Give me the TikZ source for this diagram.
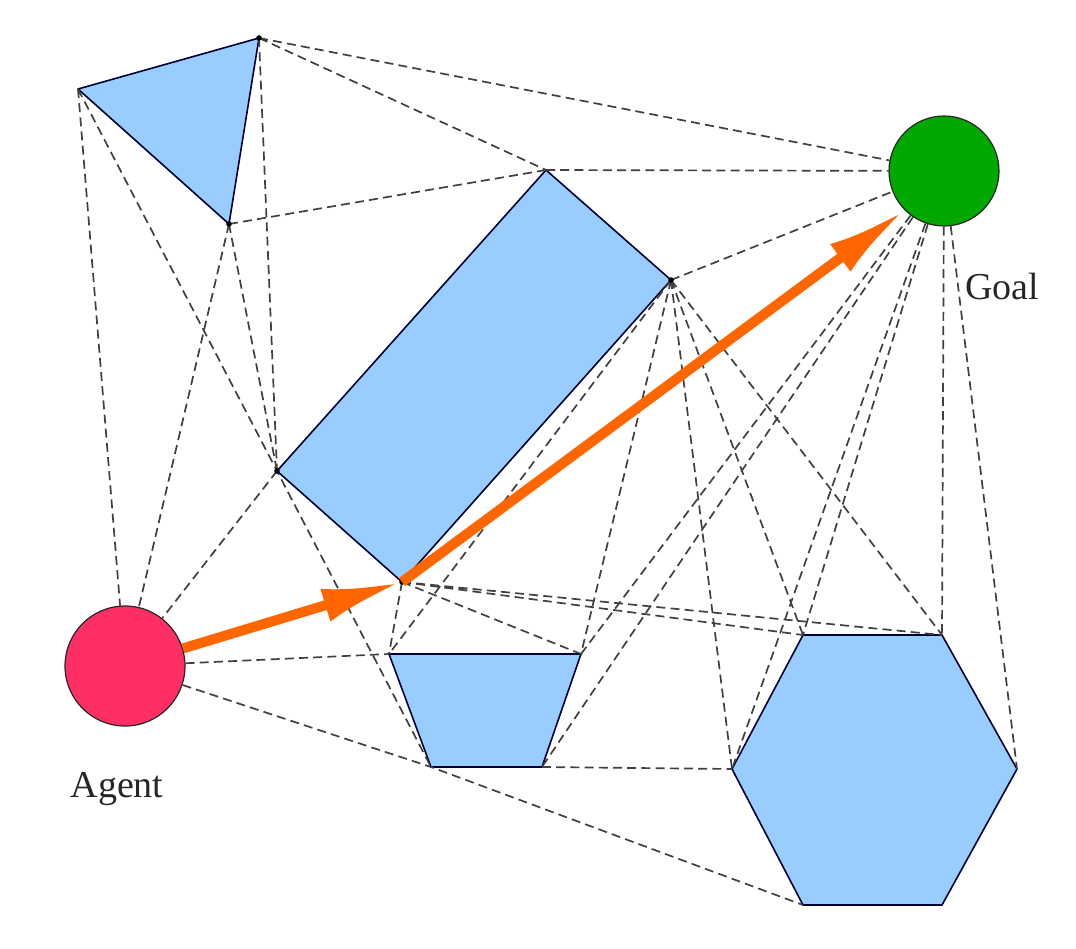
\documentclass[tikz,border=0pt]{standalone}
\usepackage{fontspec}
\setmainfont{Liberation Serif}
\usetikzlibrary{arrows.meta}

\definecolor{obstacleblue}{RGB}{153,204,255}
\definecolor{agentred}{RGB}{255,46,100}
\definecolor{goalgreen}{RGB}{0,168,0}
\definecolor{routeorange}{RGB}{255,102,0}

\begin{document}
\begin{tikzpicture}[
  x=0.5pt, y=-0.5pt,
  obstacle/.style={draw=black!80!blue, fill=obstacleblue, line width=0.8pt, line join=round},
  body/.style={circle, draw=black!85, line width=0.6pt, inner sep=0pt},
  sight/.style={draw=black!75, line width=0.85pt, dash pattern=on 4.5pt off 2.6pt},
  route/.style={draw=routeorange, line width=5pt, -{Latex[length=40pt,width=17pt]}},
  tag/.style={font=\fontsize{19}{19}\selectfont, text=black!85, inner sep=0pt, anchor=base}
]
  \useasboundingbox (0,0) rectangle (1076,948);

  \coordinate (tri-left) at (78,89);
  \coordinate (tri-top) at (259,38);
  \coordinate (tri-bottom) at (229,224);
  \coordinate (rect-top) at (546,170);
  \coordinate (rect-right) at (671,280);
  \coordinate (rect-bottom) at (402,582);
  \coordinate (rect-left) at (277,471);
  \coordinate (trap-tl) at (389,654);
  \coordinate (trap-tr) at (581,654);
  \coordinate (trap-br) at (542,767);
  \coordinate (trap-bl) at (431,767);
  \coordinate (hex-tl) at (803,635);
  \coordinate (hex-tr) at (942,635);
  \coordinate (hex-right) at (1017,769);
  \coordinate (hex-br) at (942,905);
  \coordinate (hex-bl) at (803,905);
  \coordinate (hex-left) at (732,769);

  \draw[obstacle] (tri-left) -- (tri-top) -- (tri-bottom) -- cycle;
  \draw[obstacle] (rect-top) -- (rect-right) -- (rect-bottom) -- (rect-left) -- cycle;
  \draw[obstacle] (trap-tl) -- (trap-tr) -- (trap-br) -- (trap-bl) -- cycle;
  \draw[obstacle] (hex-tl) -- (hex-tr) -- (hex-right) -- (hex-br) -- (hex-bl) -- (hex-left) -- cycle;

  \node (agent) at (125,666) [body, fill=agentred, minimum size=60pt] {};
  \node (goal) at (944,171) [body, fill=goalgreen, minimum size=55pt] {};
  \node (agent-label) at (117,797) [tag] {Agent};
  \node (goal-label) at (1002,299) [tag] {Goal};

  \draw[sight] (tri-left) -- (agent) (tri-left) -- (rect-left) -- (trap-bl);
  \draw[sight] (tri-top) -- (goal) (tri-top) -- (rect-top) (tri-top) -- (rect-left);
  \draw[sight] (tri-bottom) -- (rect-top) (tri-bottom) -- (agent) (tri-bottom) -- (rect-left);
  \draw[sight] (rect-top) -- (goal) (rect-right) -- (goal) (rect-left) -- (agent);
  \draw[sight] (rect-right) -- (trap-tl) (rect-right) -- (trap-tr) (rect-right) -- (hex-left)
    (rect-right) -- (hex-tl) (rect-right) -- (hex-tr);
  \draw[sight] (goal) -- (trap-tr) (goal) -- (trap-br) (goal) -- (hex-tl)
    (goal) -- (hex-left) (goal) -- (hex-tr) (goal) -- (hex-right);
  \draw[sight] (rect-bottom) -- (trap-tl) (rect-bottom) -- (trap-tr)
    (rect-bottom) -- (hex-tl) (rect-bottom) -- (hex-tr);
  \draw[sight] (agent) -- (trap-tl) (agent) -- (trap-bl) -- (hex-bl) (trap-br) -- (hex-left);

  \foreach \c in {tri-top, tri-bottom, rect-right, rect-bottom, rect-left}
    \fill (\c) circle (1.4pt);

  \draw[route] (agent) -- (rect-bottom);
  \draw[route] (rect-bottom) -- (goal.225);
\end{tikzpicture}
\end{document}
